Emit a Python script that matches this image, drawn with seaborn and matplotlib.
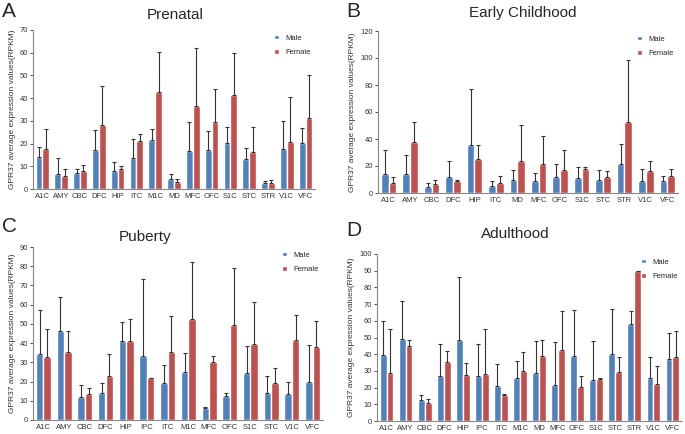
import matplotlib
matplotlib.use("Agg")
import matplotlib.pyplot as plt
import seaborn as sns
import pandas as pd
import numpy as np

sns.set_theme(style="white")
plt.rcParams['font.family'] = ['Liberation Sans', 'DejaVu Sans']

# A - Prenatal
pre_regions = ['A1C', 'AMY', 'CBC', 'DFC', 'HIP', 'ITC', 'M1C', 'MD', 'MFC', 'OFC', 'S1C', 'STC', 'STR', 'V1C', 'VFC']
pre_male = [14.2, 6.8, 7.0, 17.2, 8.0, 13.8, 21.5, 4.3, 16.6, 17.0, 20.2, 13.2, 2.8, 17.8, 20.2]
pre_male_top = [18.6, 13.8, 8.8, 26.0, 12.0, 22.0, 26.5, 6.6, 29.3, 25.7, 27.3, 17.9, 3.7, 29.8, 27.0]
pre_female = [17.5, 5.8, 7.8, 28.3, 8.6, 21.0, 42.5, 3.0, 36.7, 29.5, 41.2, 16.2, 2.8, 20.5, 31.3]
pre_female_top = [26.5, 8.7, 10.7, 45.3, 10.2, 24.3, 60.5, 4.6, 62.2, 44.1, 60.0, 27.3, 3.8, 40.5, 50.3]

# B - Early Childhood
ec_regions = ['A1C', 'AMY', 'CBC', 'DFC', 'HIP', 'ITC', 'MD', 'MFC', 'OFC', 'S1C', 'STC', 'STR', 'V1C', 'VFC']
ec_male = [14.3, 14.3, 4.5, 11.6, 35.5, 5.0, 10.0, 9.0, 11.6, 10.8, 9.4, 21.4, 9.1, 9.1]
ec_male_top = [32.0, 28.3, 7.4, 24.0, 77.0, 8.6, 16.7, 15.0, 21.4, 19.2, 17.2, 36.2, 17.7, 12.6]
ec_female = [7.1, 37.5, 6.9, 8.6, 25.4, 7.4, 23.6, 21.2, 17.0, 18.0, 11.8, 52.7, 16.5, 12.3]
ec_female_top = [11.8, 52.5, 9.6, 9.4, 35.2, 12.6, 50.2, 42.1, 32.0, 19.2, 16.3, 98.8, 23.4, 17.5]

# C - Puberty
pub_regions = ['A1C', 'AMY', 'CBC', 'DFC', 'HIP', 'IPC', 'ITC', 'M1C', 'MFC', 'OFC', 'S1C', 'STC', 'V1C', 'VFC']
pub_male = [34.5, 46.3, 12.2, 14.1, 41.0, 33.2, 19.0, 25.0, 6.0, 12.7, 24.3, 14.1, 13.6, 19.6]
pub_male_top = [57.3, 64.2, 18.4, 19.3, 51.2, 73.2, 28.4, 35.1, 6.9, 14.1, 38.3, 23.0, 19.6, 38.8]
pub_female = [33.0, 35.2, 13.6, 23.1, 41.0, 21.6, 35.5, 52.6, 30.4, 49.2, 39.4, 19.3, 41.5, 37.8]
pub_female_top = [47.3, 46.3, 16.9, 34.1, 52.7, 21.6, 54.1, 82.1, 33.4, 79.1, 61.2, 27.2, 54.7, 51.4]

# D - Adulthood
ad_regions = ['A1C', 'AMY', 'CBC', 'DFC', 'HIP', 'IPC', 'ITC', 'M1C', 'MD', 'MFC', 'OFC', 'S1C', 'STC', 'STR', 'V1C', 'VFC']
ad_male = [39.3, 49.2, 12.7, 26.8, 48.6, 27.0, 21.0, 25.5, 28.8, 21.4, 39.2, 24.6, 39.9, 57.8, 25.6, 37.3]
ad_male_top = [59.6, 72.0, 15.8, 46.0, 86.3, 46.4, 34.4, 36.2, 48.1, 47.1, 66.3, 48.1, 67.2, 66.1, 38.4, 52.8]
ad_female = [28.8, 45.2, 10.5, 35.3, 27.4, 28.0, 15.6, 30.0, 38.8, 42.6, 20.2, 25.3, 29.1, 89.8, 22.1, 38.4]
ad_female_top = [55.3, 48.7, 13.0, 42.1, 34.9, 55.3, 16.2, 41.5, 48.7, 66.1, 26.7, 25.7, 38.5, 89.9, 32.8, 54.1]

colors = ['#4F81BD', '#C0504D']
ylabel = 'GPR37 average expression values(RPKM)'

fig = plt.figure(figsize=(6.85, 4.34), dpi=100)
W, H = 685, 434
# panel boxes in pixels: left, top, right, bottom
boxes = [(33, 30, 315, 189), (378, 31, 678, 193), (33, 247, 323, 420), (377, 254, 682, 421)]
# letter position (x, top) and title position (center x, center y) in pixels
letters = [(2, 2), (346, 2), (2, 217), (346, 221)]
titles = [(175, 15), (523, 13), (145, 237), (515, 234)]
panels = [
    ('A', 'Prenatal', pre_regions, pre_male, pre_male_top, pre_female, pre_female_top, 70, 10),
    ('B', 'Early Childhood', ec_regions, ec_male, ec_male_top, ec_female, ec_female_top, 120, 20),
    ('C', 'Puberty', pub_regions, pub_male, pub_male_top, pub_female, pub_female_top, 90, 10),
    ('D', 'Adulthood', ad_regions, ad_male, ad_male_top, ad_female, ad_female_top, 100, 10),
]

for (l, t, r, b), (lx, ly), (tx, ty), (letter, title, regions, m, mt, f, ft, ymax, step) in zip(boxes, letters, titles, panels):
    ax = fig.add_axes([l / W, 1 - b / H, (r - l) / W, (b - t) / H])
    df = pd.DataFrame({
        'Region': regions * 2,
        'Value': m + f,
        'Sex': ['Male'] * len(regions) + ['Female'] * len(regions),
    })
    sns.barplot(data=df, x='Region', y='Value', hue='Sex', palette=colors,
                errorbar=None, width=0.72, saturation=1, ax=ax)
    n = len(regions)
    bars = ax.patches[:2 * n]
    for k, (vals, tops) in enumerate([(m, mt), (f, ft)]):
        xs = [bars[k * n + i].get_x() + bars[k * n + i].get_width() / 2 for i in range(n)]
        up = np.array(tops) - np.array(vals)
        ax.errorbar(xs, vals, yerr=[np.zeros(n), up], fmt='none',
                    ecolor='#333333', elinewidth=0.8, capsize=1.5, capthick=0.8)
    ax.set_ylim(0, ymax)
    ax.set_yticks(np.arange(0, ymax + 1, step))
    ax.set_xlim(-0.5, n - 0.5)
    ax.set_xlabel('')
    ax.set_ylabel(ylabel, fontsize=6, color='#333333', labelpad=3)
    ax.tick_params(axis='both', labelsize=5.5, colors='#333333', width=0.6, pad=1.5)
    ax.tick_params(axis='x', bottom=True, length=0, pad=3)
    ax.tick_params(axis='y', left=True, length=2)
    for s in ['top', 'right']:
        ax.spines[s].set_visible(False)
    for s in ['left', 'bottom']:
        ax.spines[s].set_color('#888888')
        ax.spines[s].set_linewidth(0.8)
    ax.legend(loc='upper right', fontsize=5.5, frameon=False, handlelength=0.6,
              handleheight=0.6, labelspacing=1.0, borderaxespad=0.2,
              bbox_to_anchor=(1.0, 1.0))
    fig.text(lx / W, 1 - ly / H, letter, fontsize=15, va='top', ha='left')
    fig.text(tx / W, 1 - ty / H, title, fontsize=11, va='center', ha='center')

fig.savefig('out.png', dpi=100)
